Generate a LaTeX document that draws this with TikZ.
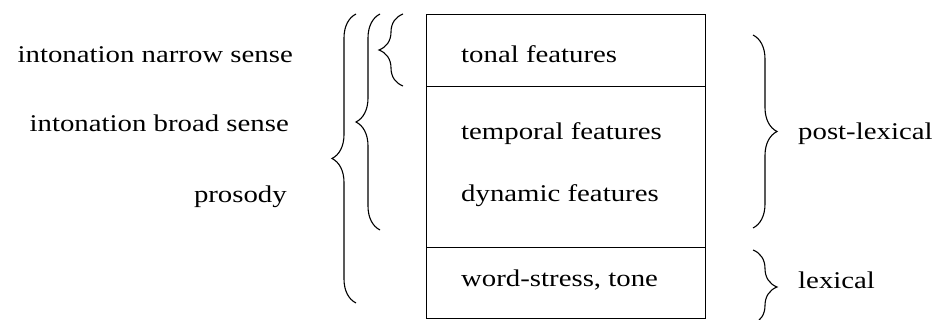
\documentclass[tikz,border=0pt]{standalone}
\usepackage{fontspec}
\setmainfont[FakeStretch=1.2]{Liberation Serif}
\usetikzlibrary{decorations.pathreplacing,positioning}

\tikzset{
  cell/.style={draw, line width=1.4pt, minimum width=279pt, inner sep=0pt, anchor=north west},
  feat/.style={anchor=base west, inner sep=0pt, font=\fontsize{24}{28}\selectfont},
  lab/.style={inner sep=0pt, font=\fontsize{24}{28}\selectfont},
  brc/.style={decorate, decoration={brace, amplitude=24pt}, line width=1.1pt},
}

\begin{document}
\begin{tikzpicture}[x=1pt, y=-1pt]
  \useasboundingbox (0,0) rectangle (934,320);

  % the feature box
  \node[cell, minimum height=72pt] (tonal) at (426,14) {};
  \node[cell, minimum height=161pt] (mid) at (426,86) {};
  \node[cell, minimum height=71pt] (word) at (426,247) {};

  \node[feat] (tf) at (461,63) {tonal features};
  \node[feat] (tp) at (461,140) {temporal features};
  \node[feat] (dy) at (461,202) {dynamic features};
  \node[feat] (ws) at (461,287) {word-stress, tone};

  % left labels
  \node[lab, anchor=base east] (narrow) at (293,63) {intonation narrow sense};
  \node[lab, anchor=base east] (broad) at (289,132) {intonation broad sense};
  \node[lab, anchor=base east] (pros) at (287,203) {prosody};

  % left braces
  \draw[brc] (403,86) -- (403,14);
  \draw[brc] (380,230) -- (380,14);
  \draw[brc] (356,303) -- (356,14);

  % right braces
  \draw[brc] (753,35) -- (753,228);
  \draw[brc] (753,250) -- (753,324);

  \node[lab, anchor=base west] (post) at (798,140) {post-lexical};
  \node[lab, anchor=base west] (lex) at (798,288) {lexical};
\end{tikzpicture}
\end{document}
